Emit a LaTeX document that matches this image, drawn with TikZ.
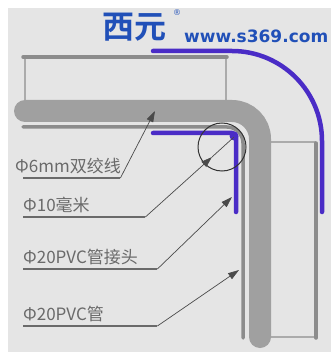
\documentclass[tikz,border=0pt]{standalone}
\usepackage{fontspec}
\newfontfamily\cjk[BoldFont={Noto Sans CJK SC Bold}]{Noto Sans CJK SC}
\newfontfamily\webfont{DejaVu Sans}
\usetikzlibrary{arrows.meta}
\definecolor{PanelGray} {HTML}{E5E5E5}
\definecolor{CableGray} {HTML}{A0A0A0}
\definecolor{TubeGray}  {HTML}{8C8C8C}
\definecolor{RimGray}   {HTML}{ABABAB}
\definecolor{JointBlue} {HTML}{4A2CC6}
\definecolor{LogoBlue}  {HTML}{2150B8}
\definecolor{TextGray}  {HTML}{6A6A6A}
\definecolor{LeadGray}  {HTML}{4A4A4A}
\tikzset{
  tube/.style={draw=TubeGray,line width=3.5pt,line cap=round},
  rim/.style={draw=RimGray,line width=1.3pt},
  cable/.style={draw=CableGray,line width=22pt,line cap=round},
  joint/.style={draw=JointBlue,line width=4.5pt,line cap=round},
  lbl/.style={anchor=south west,inner xsep=0pt,inner ysep=4pt,
              text width=#1,align=left,
              font=\cjk\fontsize{17}{17}\selectfont,text=TextGray},
  uline/.style={draw=TextGray,line width=1.3pt},
  lead/.style={draw=LeadGray,line width=0.7pt,
               -{Triangle[length=11pt,width=7pt]}},
}

\begin{document}
\begin{tikzpicture}[x=1pt,y=-1pt]
  \useasboundingbox (0,0) rectangle (331,352);
  \fill[white] (0,0) rectangle (331,352);
  \fill[PanelGray] (8,8) rectangle (331,352);

  % upper conduit
  \draw[rim] (25,57) -- (25,100);
  \draw[rim] (226,57) -- (226,100);
  \draw[tube] (23,57) -- (227,57);

  % lower conduit, round the bend and down
  \draw[tube,rounded corners=16pt] (23,127) -| (243,338);
  \draw[rim] (271,142) -- (316,142);
  \draw[rim] (271,337) -- (316,337);
  \draw[tube] (316,143) -- (316,338);

  % twisted pair cable
  \draw[cable,rounded corners=28pt] (25,111) -| (260,337);

  % PVC elbow joint
  \draw[joint,rounded corners=90pt] (153,51) -| (322,212);
  \draw[joint,rounded corners=4pt] (153,133) -| (236,212);
  \fill[JointBlue] (234,136) circle (4.5pt);

  % bend radius marker
  \draw[black!80,line width=1pt] (222,147) circle (24pt);

  \coordinate (tipCable) at (155,111);
  \coordinate (tipBend)  at (212,157);
  \coordinate (bendEnd)  at (234,137);
  \coordinate (tipJoint) at (232,197);
  \coordinate (tipTube)  at (239,270);

  % labels with leaders
  \node[lbl=105pt] (CBL) at (15,178){Φ6mm双绞线};
  \node[lbl=122pt] (RAD) at (23,217){Φ10毫米};
  \node[lbl=134pt] (JNT) at (23,269){Φ20PVC管接头};
  \node[lbl=134pt] (PIPE) at (23,326){Φ20PVC管};

  \draw[uline] ([xshift=8pt]CBL.south west) -- (CBL.south east);
  \draw[uline] (RAD.south west) -- (RAD.south east);
  \draw[uline] (JNT.south west) -- (JNT.south east);
  \draw[uline] (PIPE.south west) -- (PIPE.south east);

  \draw[lead] (CBL.south east) -- (tipCable);
  \draw[lead] (RAD.south east) -- (tipBend);
  \draw[LeadGray,line width=0.7pt] (tipBend) -- (bendEnd);
  \draw[lead] (JNT.south east) -- (tipJoint);
  \draw[lead] (PIPE.south east) -- (tipTube);

  % logo
  \node[font=\cjk\bfseries\fontsize{32}{32}\selectfont,text=LogoBlue]
    (LOGO) at (134,27){西元};
  \node[font=\webfont\fontsize{8}{8}\selectfont,text=LogoBlue]
    (REG) at (177,13){®};
  \node[font=\webfont\bfseries\fontsize{17}{17}\selectfont,text=LogoBlue,
        anchor=west,inner sep=0pt] (URL) at (184,36){www.s369.com};
\end{tikzpicture}
\end{document}
